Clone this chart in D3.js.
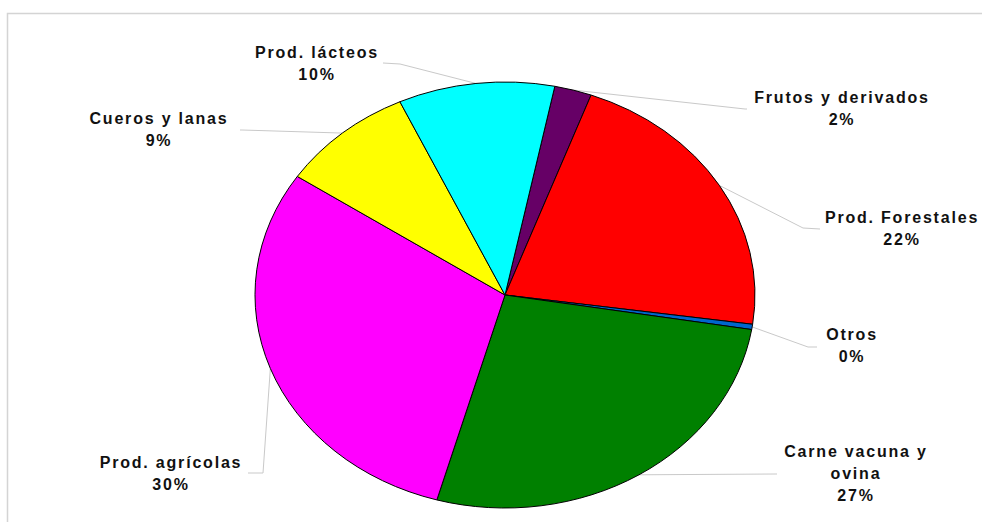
<!DOCTYPE html>
<html lang="es">
<head>
<meta charset="UTF-8" />
<title>Exportaciones por rubro</title>
<script src="https://cdn.jsdelivr.net/npm/d3@7"></script>
<style>
  body { margin: 0; background: #fff; }
  svg text { font-family: "Liberation Sans", Arial, sans-serif; font-weight: bold; font-size: 16px; letter-spacing: 1.8px; fill: #111; }
</style>
</head>
<body>
<div id="chart"></div>
<script>
// data
const categories = ["Frutos y derivados", "Prod. Forestales", "Otros", "Carne vacuna y ovina",
                    "Prod. agrícolas", "Cueros y lanas", "Prod. lácteos"];
const values = [2.4, 21.6, 0.4, 26.8, 30.0, 8.7, 10.1];
const labelLines = [["Frutos y derivados"], ["Prod. Forestales"], ["Otros"], ["Carne vacuna y", "ovina"],
                    ["Prod. agrícolas"], ["Cueros y lanas"], ["Prod. lácteos"]];
const colors = ["#660066", "#ff0000", "#0066cc", "#008000", "#ff00ff", "#ffff00", "#00ffff"];

const width = 982, height = 522;
const cx = 505, cy = 295, rx = 250, ry = 213;
const startDeg = 11.5;

// label placement: text centre x, first baseline y, then leader elbow/end
const labelPos = [
  { x: 842, y: 103, elbow: [745, 109], end: [747, 109] },
  { x: 902, y: 223, elbow: [803, 228], end: [820, 229] },
  { x: 852, y: 340, elbow: [808, 347], end: [817, 347] },
  { x: 856, y: 457, elbow: [776, 474], end: [777, 474] },
  { x: 171, y: 468, elbow: [263, 473], end: [248, 473] },
  { x: 159, y: 124, elbow: [242, 130], end: [240, 130] },
  { x: 317, y: 58,  elbow: [400, 64],  end: [383, 63] }
];

const total = d3.sum(values);
const svg = d3.select("#chart").append("svg")
  .attr("width", width).attr("height", height);

svg.append("rect").attr("width", width).attr("height", height).attr("fill", "#fff");
// chart area border (only top/left visible)
svg.append("rect")
  .attr("x", 7.5).attr("y", 13.5).attr("width", 1100).attr("height", 700)
  .attr("fill", "none").attr("stroke", "#d4d4d4").attr("stroke-width", 1.5);

const pie = d3.pie().sort(null).value(d => d)
  .startAngle(startDeg * Math.PI / 180)
  .endAngle(startDeg * Math.PI / 180 + 2 * Math.PI);
const arcs = pie(values);

const arc = d3.arc().innerRadius(0).outerRadius(rx);
const edge = d3.arc().innerRadius(rx).outerRadius(rx);
const sy = ry / rx;

// leader lines
svg.append("g").selectAll("polyline")
  .data(arcs)
  .join("polyline")
  .attr("fill", "none")
  .attr("stroke", "#c9c9c9")
  .attr("stroke-width", 1)
  .attr("points", (d, i) => {
    const c = edge.centroid(d);
    const p0 = [cx + c[0], cy + c[1] * sy];
    return [p0, labelPos[i].elbow, labelPos[i].end].map(p => p.join(",")).join(" ");
  });

// slices (elliptical pie)
svg.append("g")
  .attr("transform", `translate(${cx},${cy}) scale(1,${sy})`)
  .selectAll("path")
  .data(arcs)
  .join("path")
  .attr("d", arc)
  .attr("fill", (d, i) => colors[i])
  .attr("stroke", "#000")
  .attr("stroke-width", 1)
  .attr("vector-effect", "non-scaling-stroke");

// labels
const lab = svg.append("g").selectAll("text")
  .data(arcs)
  .join("text")
  .attr("text-anchor", "middle")
  .attr("x", (d, i) => labelPos[i].x)
  .attr("y", (d, i) => labelPos[i].y);

lab.each(function(d, i) {
  const t = d3.select(this);
  const lines = labelLines[i].concat([Math.round(d.value / total * 100) + "%"]);
  lines.forEach((s, k) => {
    t.append("tspan").attr("x", labelPos[i].x).attr("dy", k === 0 ? 0 : 22).text(s);
  });
});
</script>
</body>
</html>
